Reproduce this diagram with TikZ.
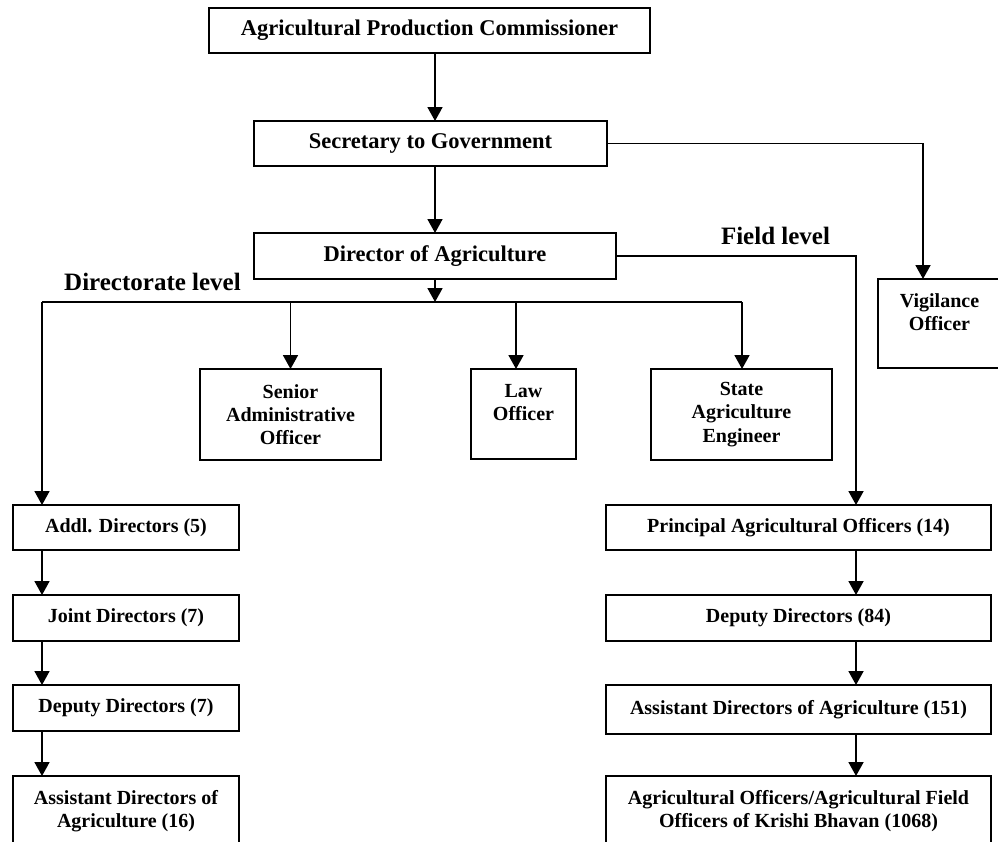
\documentclass[tikz,border=0pt]{standalone}
\usepackage{fontspec}
\setmainfont{Liberation Serif}
\usetikzlibrary{arrows.meta,positioning}

\begin{document}
\begin{tikzpicture}[x=1pt, y=-1pt,
    >={Triangle[length=14pt,width=15pt]},
    box/.style={draw, line width=2pt, inner sep=0pt, outer sep=0pt, align=center,
        font=\fontsize{20}{23.3}\selectfont\bfseries},
    topbox/.style={box, minimum height=45pt,
        font=\fontsize{22.5}{26}\selectfont\bfseries},
    levelhead/.style={font=\fontsize{25}{28}\selectfont\bfseries, inner sep=0pt},
    link/.style={line width=1.8pt}]
    \useasboundingbox (0,0) rectangle (998,841);
    \clip (0,0) rectangle (998,841);

    % Top of the hierarchy
    \node[topbox, minimum width=441pt] (apc) at (429.5,30.5) {Agricultural Production Commissioner};
    \node[topbox, minimum width=353pt] (sec) at (430.5,143.5) {Secretary to Government};
    \node[topbox, minimum width=362pt, minimum height=46pt] (dir) at (435,256) {Director of Agriculture};
    \node[box, minimum width=124pt, minimum height=89pt] (vig) at (939.5,323.5) {Vigilance\\Officer\\\mbox{}};

    % Offices under the director
    \node[box, minimum width=181pt, minimum height=91pt] (sao) at (290.5,414.5) {Senior\\Administrative\\Officer};
    \node[box, minimum width=105pt, minimum height=90pt] (law) at (523.5,414) {Law\\Officer\\\mbox{}};
    \node[box, minimum width=181pt, minimum height=91pt] (sae) at (741.5,414.5) {State\\Agriculture\\Engineer};

    % Level headings
    \node[levelhead] (dirlevel) at (152.5,282) {Directorate level};
    \node[levelhead] (fieldlevel) at (775.5,236) {Field level};

    % Directorate level
    \node[box, minimum width=226pt, minimum height=45pt] (addl) at (126,527.5) {Addl. Directors (5)};
    \node[box, minimum width=226pt, minimum height=46pt, below=45pt of addl] (joint) {Joint Directors (7)};
    \node[box, minimum width=226pt, minimum height=46pt, below=44pt of joint] (depdir) {Deputy Directors (7)};
    \node[box, minimum width=226pt, minimum height=70pt, below=45pt of depdir] (asstdir) {Assistant Directors of\\Agriculture (16)};

    % Field level
    \node[box, minimum width=385pt, minimum height=45pt] (pao) at (798.5,527.5) {Principal Agricultural Officers (14)};
    \node[box, minimum width=385pt, minimum height=46pt, below=45pt of pao] (dd) {Deputy Directors (84)};
    \node[box, minimum width=385pt, minimum height=49pt, below=44pt of dd] (ada) {Assistant Directors of Agriculture (151)};
    \node[box, minimum width=385pt, minimum height=70pt, below=42pt of ada] (ao) {Agricultural Officers/Agricultural Field\\Officers of Krishi Bhavan (1068)};

    % Branch points
    \coordinate (bar) at (435,302);
    \coordinate (barL) at (42,302);
    \coordinate (barR) at (742,302);
    \coordinate (lawtap) at (516,302);
    \coordinate (vigtap) at (923,143.5);
    \coordinate (fieldtap) at (856,256);

    % Connectors
    \draw[link, ->] (dir.north |- apc.south) -- (dir.north |- sec.north);
    \draw[link, ->] (dir.north |- sec.south) -- (dir.north);
    \draw[link, ->] (sec.east) -- (vigtap) -- (vigtap |- vig.north);
    \draw[link, ->] (dir.south) -- (bar);
    \draw[link] (barL) -- (barR);
    \draw[link, ->] (sao.north |- bar) -- (sao.north);
    \draw[link, ->] (lawtap) -- (lawtap |- law.north);
    \draw[link, ->] (barR) -- (barR |- sae.north);
    \draw[link, ->] (barL) -- (barL |- addl.north);
    \draw[link, ->] (barL |- addl.south) -- (barL |- joint.north);
    \draw[link, ->] (barL |- joint.south) -- (barL |- depdir.north);
    \draw[link, ->] (barL |- depdir.south) -- (barL |- asstdir.north);
    \draw[link, ->] (dir.east) -- (fieldtap) -- (fieldtap |- pao.north);
    \draw[link, ->] (fieldtap |- pao.south) -- (fieldtap |- dd.north);
    \draw[link, ->] (fieldtap |- dd.south) -- (fieldtap |- ada.north);
    \draw[link, ->] (fieldtap |- ada.south) -- (fieldtap |- ao.north);
\end{tikzpicture}
\end{document}
